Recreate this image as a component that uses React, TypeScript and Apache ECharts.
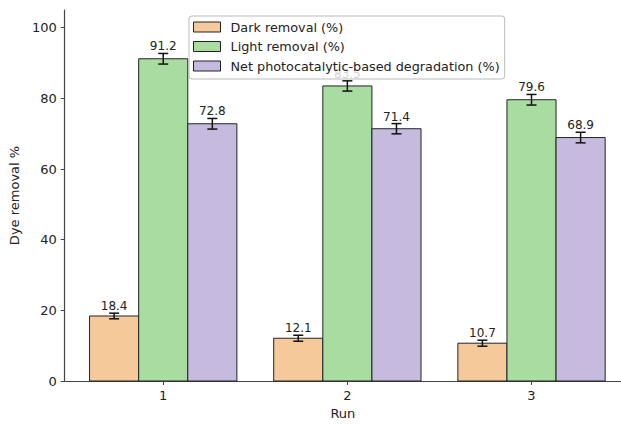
import React, { useEffect, useRef } from "react";
import * as echarts from "echarts";

// Runs on the x axis
const runs = [1, 2, 3];
const tickLabelsY = [0, 20, 40, 60, 80, 100];

// Series values (%) and their standard deviations
const seriesNames = [
  "Dark removal (%)",
  "Light removal (%)",
  "Net photocatalytic-based degradation (%)",
];
const darkRemoval = [18.4, 12.1, 10.7];
const lightRemoval = [91.2, 83.5, 79.6];
const netDegradation = [72.8, 71.4, 68.9];
const darkErr = [0.8, 0.85, 0.85];
const lightErr = [1.5, 1.45, 1.5];
const netErr = [1.5, 1.45, 1.5];

const colors = ["#F5C99A", "#A9DCA0", "#C6BBDF"];
const FONT = "DejaVu Sans";
const BAR_W = 0.8 / 3;

function makeSeries(idx: number, values: number[], errs: number[]) {
  const offset = (idx - 1) * BAR_W;
  return {
    type: "custom",
    name: seriesNames[idx],
    itemStyle: { color: colors[idx], borderColor: "#222", borderWidth: 1 },
    data: runs.map((r, i) => [r, values[i], errs[i]]),
    clip: false,
    renderItem: (params: any, api: any) => {
      const x = api.value(0) + offset;
      const v = api.value(1);
      const e = api.value(2);
      const tl = api.coord([x - BAR_W / 2, v]);
      const br = api.coord([x + BAR_W / 2, 0]);
      const c = api.coord([x, v]);
      const hi = api.coord([x, v + e]);
      const lo = api.coord([x, v - e]);
      const cap = 5;
      return {
        type: "group",
        children: [
          {
            type: "rect",
            shape: { x: tl[0], y: tl[1], width: br[0] - tl[0], height: br[1] - tl[1] },
            style: { fill: colors[idx], stroke: "#222", lineWidth: 1 },
          },
          {
            type: "line",
            shape: { x1: c[0], y1: hi[1], x2: c[0], y2: lo[1] },
            style: { stroke: "#111", lineWidth: 1.5 },
          },
          {
            type: "line",
            shape: { x1: c[0] - cap, y1: hi[1], x2: c[0] + cap, y2: hi[1] },
            style: { stroke: "#111", lineWidth: 1.5 },
          },
          {
            type: "line",
            shape: { x1: c[0] - cap, y1: lo[1], x2: c[0] + cap, y2: lo[1] },
            style: { stroke: "#111", lineWidth: 1.5 },
          },
          {
            type: "text",
            x: c[0],
            y: hi[1] - 1,
            style: {
              text: v.toFixed(1),
              fill: "#222",
              font: `12px "${FONT}"`,
              align: "center",
              verticalAlign: "bottom",
            },
          },
        ],
      };
    },
  };
}

export default function App() {
  const ref = useRef<HTMLDivElement>(null);

  useEffect(() => {
    document.body.style.margin = "0";
    const chart = echarts.init(ref.current!, null, { renderer: "svg" });
    chart.setOption({
      animation: false,
      backgroundColor: "#fff",
      textStyle: { fontFamily: FONT },
      grid: { left: 62, top: 10, right: 0, bottom: 39 },
      legend: {
        orient: "vertical",
        left: 189,
        top: 16,
        z: 10,
        data: seriesNames,
        icon: "rect",
        itemWidth: 27,
        itemHeight: 10,
        itemGap: 3.5,
        padding: [3, 5, 5, 4],
        backgroundColor: "rgba(255,255,255,0.8)",
        borderColor: "#bbb",
        borderWidth: 1,
        borderRadius: 3,
        itemStyle: { borderColor: "#222", borderWidth: 1 },
        textStyle: { fontFamily: FONT, fontSize: 12.8, color: "#222", lineHeight: 16, padding: [0, 0, 0, 5] },
      },
      xAxis: {
        type: "value",
        min: 0.465,
        max: 3.486,
        name: "Run",
        nameLocation: "middle",
        nameGap: 26,
        nameTextStyle: { fontFamily: FONT, fontSize: 13, color: "#222" },
        splitLine: { show: false },
        axisLine: { show: true, lineStyle: { color: "#444", width: 1.2 } },
        axisTick: { show: true, length: 4, customValues: runs, lineStyle: { color: "#444" } },
        axisLabel: { customValues: runs, fontFamily: FONT, fontSize: 13, color: "#222", margin: 8 },
      },
      yAxis: {
        type: "value",
        min: 0,
        max: 105,
        name: "Dye removal %",
        nameLocation: "middle",
        nameGap: 38,
        nameTextStyle: { fontFamily: FONT, fontSize: 13, color: "#222" },
        splitLine: { show: false },
        axisLine: { show: true, lineStyle: { color: "#444", width: 1.2 } },
        axisTick: { show: true, length: 4, customValues: tickLabelsY, lineStyle: { color: "#444" } },
        axisLabel: { customValues: tickLabelsY, fontFamily: FONT, fontSize: 13, color: "#222", margin: 8 },
      },
      series: [
        makeSeries(0, darkRemoval, darkErr),
        makeSeries(1, lightRemoval, lightErr),
        makeSeries(2, netDegradation, netErr),
      ],
    });
    return () => chart.dispose();
  }, []);

  return <div ref={ref} style={{ position: "absolute", left: 0, top: 0, width: 621, height: 425 }} />;
}
